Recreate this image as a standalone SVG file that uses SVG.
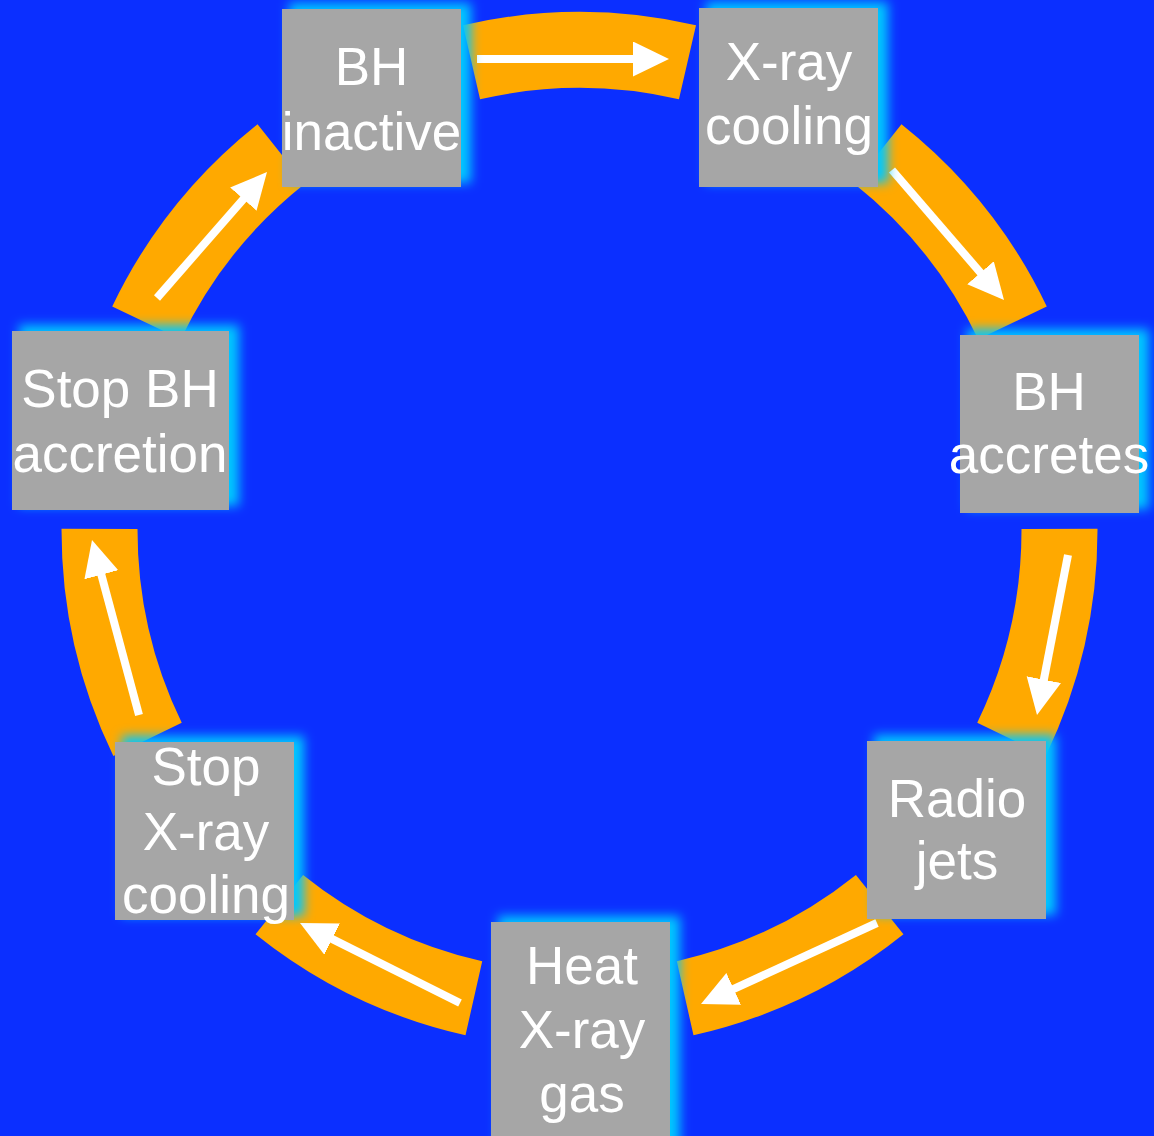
<svg xmlns="http://www.w3.org/2000/svg" width="1154" height="1136" viewBox="0 0 1154 1136">
  <defs>
    <style>
      .band { fill: #ffa900; }
      .shaft { stroke: #ffffff; stroke-width: 8; fill: none; marker-end: url(#head); }
      .box { fill: #a6a6a6; }
      .halo { fill: #00c8ff; filter: url(#soft); }
      .label { font-family: "Liberation Sans", Arial, sans-serif; font-size: 53px; fill: #ffffff; text-anchor: middle; }
    </style>
    <filter id="soft" x="-30%" y="-30%" width="160%" height="160%">
      <feGaussianBlur stdDeviation="5.5"/>
    </filter>
    <marker id="head" markerUnits="userSpaceOnUse" markerWidth="36" markerHeight="36" viewBox="0 0 36 36" refX="16" refY="17.5" orient="auto">
      <path d="M0,0 L36,17.5 L0,35 Z" fill="#ffffff"/>
    </marker>
  </defs>

  <rect width="1154" height="1136" fill="#0b2fff"/>

  <!-- ring segments with their arrows -->
  <g id="connectors">
    <path class="band" d="M462.98,25.28 A518,518 0 0 1 696.02,25.28 L678.93,99.33 A442,442 0 0 0 480.07,99.33 Z"/>
    <path class="band" d="M901.46,124.21 A518,518 0 0 1 1046.77,306.42 L978.21,339.22 A442,442 0 0 0 854.22,183.75 Z"/>
    <path class="band" d="M1097.5,528.71 A518,518 0 0 1 1045.64,755.92 L977.25,722.77 A442,442 0 0 0 1021.5,528.9 Z"/>
    <path class="band" d="M903.47,934.19 A518,518 0 0 1 693.5,1035.3 L676.78,961.16 A442,442 0 0 0 855.94,874.88 Z"/>
    <path class="band" d="M465.5,1035.3 A518,518 0 0 1 255.53,934.19 L303.06,874.88 A442,442 0 0 0 482.22,961.16 Z"/>
    <path class="band" d="M113.36,755.92 A518,518 0 0 1 61.5,528.71 L137.5,528.9 A442,442 0 0 0 181.75,722.77 Z"/>
    <path class="band" d="M112.23,306.42 A518,518 0 0 1 257.54,124.21 L304.78,183.75 A442,442 0 0 0 180.79,339.22 Z"/>

    <line class="shaft" x1="477" y1="59" x2="649" y2="59"/>
    <line class="shaft" x1="892" y1="170" x2="990.95" y2="284.85"/>
    <line class="shaft" x1="1068" y1="555" x2="1040.8" y2="695.37"/>
    <line class="shaft" x1="877" y1="923" x2="719.17" y2="995.64"/>
    <line class="shaft" x1="460" y1="1003" x2="317.89" y2="931.94"/>
    <line class="shaft" x1="139" y1="715" x2="97.19" y2="559.32"/>
    <line class="shaft" x1="157" y1="298" x2="253.85" y2="187.07"/>
  </g>

  <g id="bh-inactive">
    <rect class="halo" x="289" y="3" width="182" height="180"/>
    <rect class="box" x="282" y="9" width="179" height="178"/>
    <text class="label" x="371.5" y="85">BH</text>
    <text class="label" x="371.5" y="150">inactive</text>
  </g>

  <g id="xray-cooling">
    <rect class="halo" x="706" y="2" width="182" height="181"/>
    <rect class="box" x="699" y="8" width="179" height="179"/>
    <text class="label" x="789" y="80">X-ray</text>
    <text class="label" x="789" y="144">cooling</text>
  </g>

  <g id="bh-accretes">
    <rect class="halo" x="967" y="329" width="182" height="180"/>
    <rect class="box" x="960" y="335" width="179" height="178"/>
    <text class="label" x="1049" y="410">BH</text>
    <text class="label" x="1049" y="473">accretes</text>
  </g>

  <g id="radio-jets">
    <rect class="halo" x="874" y="735" width="182" height="180"/>
    <rect class="box" x="867" y="741" width="179" height="178"/>
    <text class="label" x="957" y="817">Radio</text>
    <text class="label" x="957" y="879">jets</text>
  </g>

  <g id="heat-xray-gas">
    <rect class="halo" x="498" y="916" width="182" height="242"/>
    <rect class="box" x="491" y="922" width="179" height="240"/>
    <text class="label" x="582" y="984">Heat</text>
    <text class="label" x="582" y="1048">X-ray</text>
    <text class="label" x="582" y="1112">gas</text>
  </g>

  <g id="stop-xray-cooling">
    <rect class="halo" x="122" y="736" width="182" height="180"/>
    <rect class="box" x="115" y="742" width="179" height="178"/>
    <text class="label" x="206" y="785">Stop</text>
    <text class="label" x="206" y="850">X-ray</text>
    <text class="label" x="206" y="913">cooling</text>
  </g>

  <g id="stop-bh-accretion">
    <rect class="halo" x="19" y="325" width="220" height="181"/>
    <rect class="box" x="12" y="331" width="217" height="179"/>
    <text class="label" x="120" y="407">Stop BH</text>
    <text class="label" x="120" y="472">accretion</text>
  </g>
</svg>
